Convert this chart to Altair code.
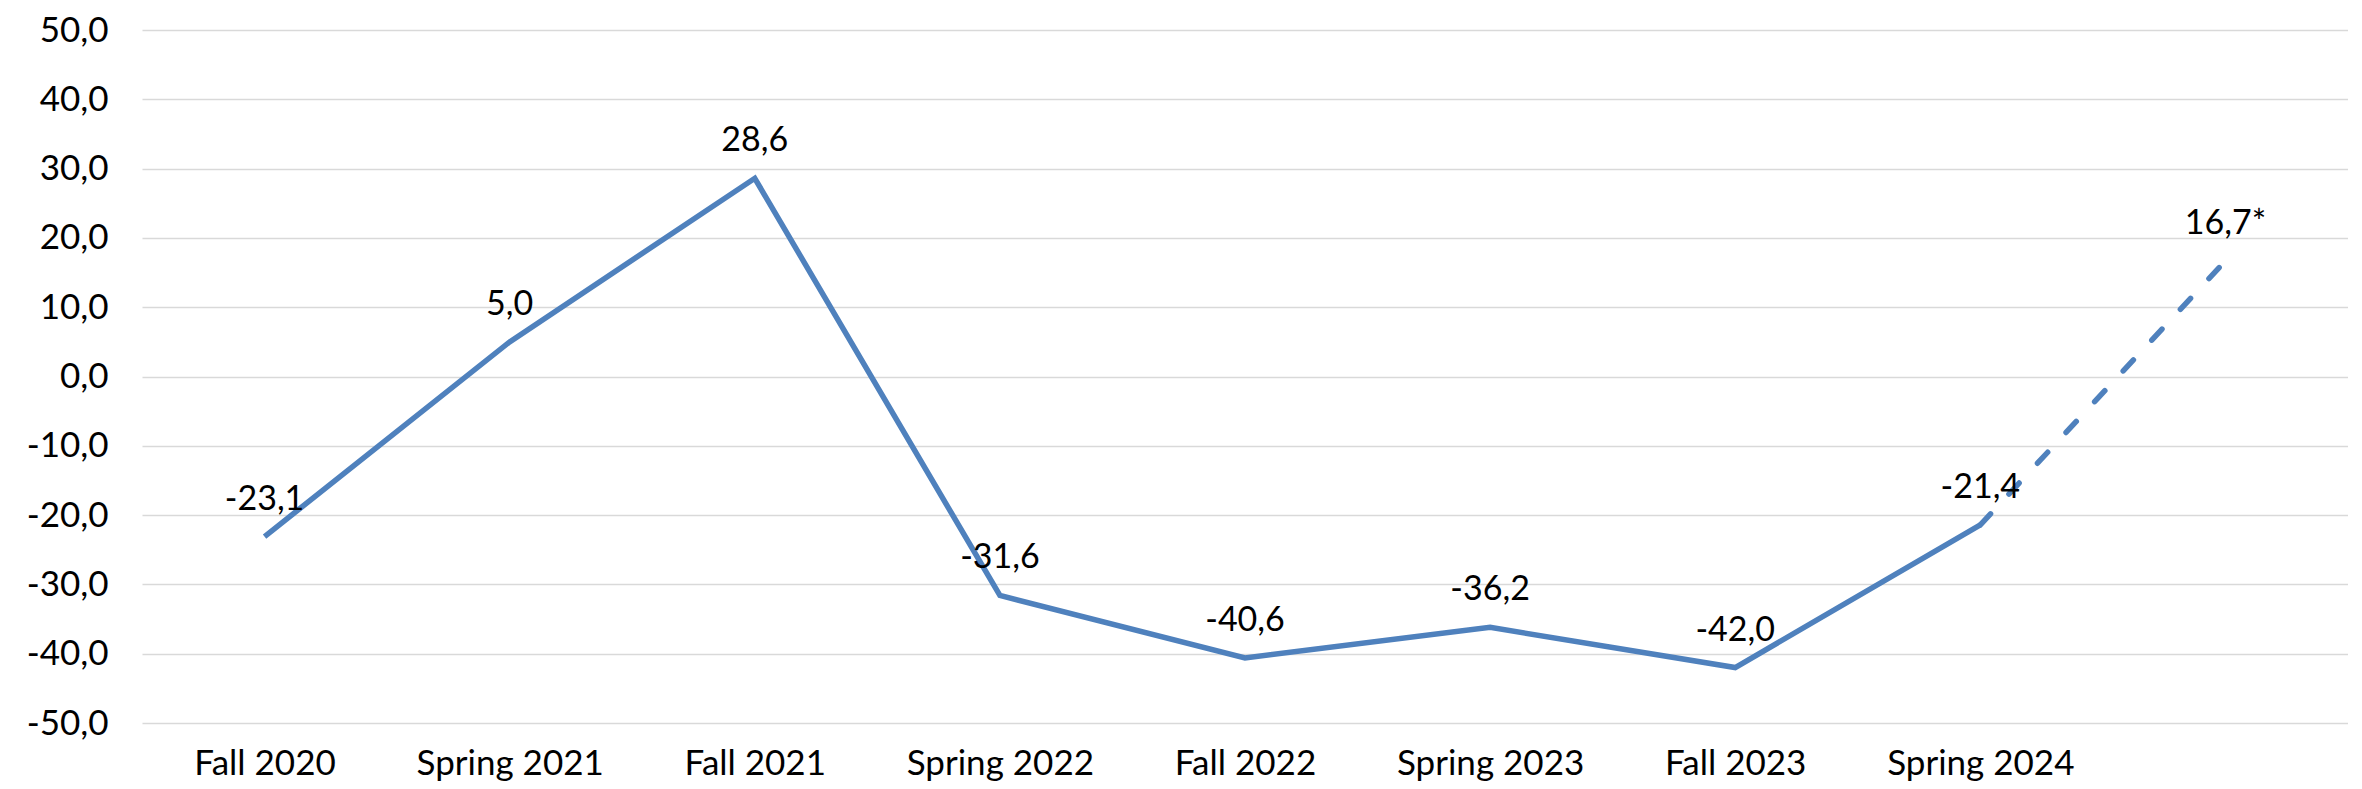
import altair as alt
import pandas as pd

categories = ["Fall 2020", "Spring 2021", "Fall 2021", "Spring 2022", "Fall 2022",
              "Spring 2023", "Fall 2023", "Spring 2024", "Fall 2024"]
values = [-23.1, 5.0, 28.6, -31.6, -40.6, -36.2, -42.0, -21.4, 16.7]
label_suffix = ["", "", "", "", "", "", "", "", "*"]
y_ticks = [-50, -40, -30, -20, -10, 0, 10, 20, 30, 40, 50]

points = pd.DataFrame({
    "cat": categories,
    "value": values,
    "label": [f"{v:.1f}".replace(".", ",") + s for v, s in zip(values, label_suffix)],
})

rows = []
for i in range(0, 8):
    rows.append({"cat": categories[i], "value": values[i], "seg": "actual"})
for i in range(7, 9):
    rows.append({"cat": categories[i], "value": values[i], "seg": "forecast"})
lines = pd.DataFrame(rows)

FONT = "Lato"

x_enc = alt.X(
    "cat:N", sort=categories,
    scale=alt.Scale(type="point", padding=0.5),
    axis=alt.Axis(title=None, labelAngle=0, ticks=False, domain=False, grid=False,
                  labelExpr="datum.label == 'Fall 2024' ? '' : datum.label",
                  labelFontSize=35, labelPadding=23, labelColor="black",
                  labelFont=FONT, labelLimit=0),
)
y_enc = alt.Y(
    "value:Q",
    scale=alt.Scale(domain=[-50, 50], nice=False, zero=False),
    axis=alt.Axis(title=None, values=y_ticks, ticks=False, domain=False,
                  grid=True, gridColor="#d9d9d9", gridWidth=1.5,
                  labelExpr="replace(replace(format(datum.value, '.1f'), '.', ','), '\u2212', '-')",
                  labelFontSize=35, labelPadding=34, labelColor="black",
                  labelFont=FONT, labelLimit=0),
)

base_line = alt.Chart(lines)

solid = base_line.transform_filter(alt.datum.seg == "actual").mark_line(
    color="#4f81bd", strokeWidth=5.5
).encode(x=x_enc, y=y_enc)

dashed = base_line.transform_filter(alt.datum.seg == "forecast").mark_line(
    color="#4f81bd", strokeWidth=5.5, strokeDash=[15, 27], strokeCap="round"
).encode(x=x_enc, y=y_enc)

text = alt.Chart(points).mark_text(
    fontSize=34, font=FONT, color="black", baseline="alphabetic", dy=-27
).encode(x=x_enc, y=y_enc, text="label:N")

chart = alt.layer(solid, dashed, text).properties(
    width=2206, height=693,
    autosize=alt.AutoSizeParams(type="none"),
    padding={"left": 134, "top": 22, "right": 0, "bottom": 58},
).configure_view(stroke=None)

chart.save("out.html", embed_options={"renderer": "svg", "actions": False})
